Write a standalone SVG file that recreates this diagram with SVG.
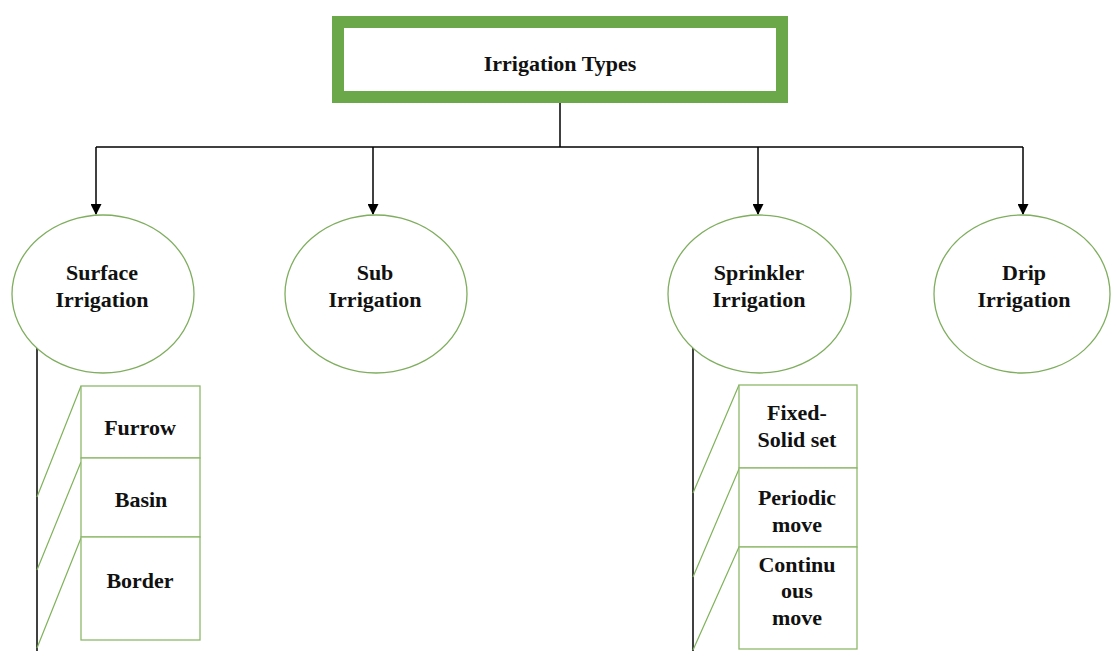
<svg xmlns="http://www.w3.org/2000/svg" width="1112" height="651" viewBox="0 0 1112 651">
<style>
text{font-family:"Liberation Serif","Times New Roman",serif;font-weight:bold;font-size:22px;fill:#111;text-anchor:middle}
.ell{fill:#fff;stroke:#7fae5f;stroke-width:1.3}
.box{fill:#fff;stroke:#8db86b;stroke-width:1.3}
.diag{stroke:#7fb35a;stroke-width:1.2;fill:none}
.conn{stroke:#000;stroke-width:1.5;fill:none}
</style>
<defs>
<marker id="arr" markerWidth="11" markerHeight="11" refX="10" refY="5.5" orient="auto" markerUnits="userSpaceOnUse">
<path d="M0,0 L11,5.5 L0,11 Z" fill="#000"/>
</marker>
</defs>
<rect width="1112" height="651" fill="#fff"/>
<g id="connectors">
<path class="conn" d="M560,97 V147"/>
<path class="conn" d="M96,147 H1023"/>
<path class="conn" d="M96,147 V214" marker-end="url(#arr)"/>
<path class="conn" d="M373,147 V214" marker-end="url(#arr)"/>
<path class="conn" d="M758,147 V214" marker-end="url(#arr)"/>
<path class="conn" d="M1023,147 V214" marker-end="url(#arr)"/>
<path class="conn" d="M37,348 V651"/>
<path class="conn" d="M693,348 V651"/>
<path class="diag" d="M37,497 L81,386 M37,570 L81,462 M37,648 L81,538"/>
<path class="diag" d="M693,493 L739,385 M693,577 L739,469 M693,650 L739,547"/>
</g>
<g id="root">
<rect x="338" y="22" width="444" height="75" fill="#fff" stroke="#6aa84a" stroke-width="12"/>
<text x="560" y="71">Irrigation Types</text>
</g>
<g id="surface">
<ellipse class="ell" cx="103" cy="294" rx="91" ry="79"/>
<text x="102" y="280">Surface</text>
<text x="102" y="307">Irrigation</text>
</g>
<g id="sub">
<ellipse class="ell" cx="376" cy="294" rx="91" ry="79"/>
<text x="375" y="280">Sub</text>
<text x="375" y="307">Irrigation</text>
</g>
<g id="sprinkler">
<ellipse class="ell" cx="759.5" cy="294" rx="91.5" ry="79"/>
<text x="759" y="280">Sprinkler</text>
<text x="759" y="307">Irrigation</text>
</g>
<g id="drip">
<ellipse class="ell" cx="1022" cy="294" rx="88" ry="79"/>
<text x="1024" y="280">Drip</text>
<text x="1024" y="307">Irrigation</text>
</g>
<g id="furrow">
<rect class="box" x="81" y="386" width="119" height="72"/>
<text x="140" y="435">Furrow</text>
</g>
<g id="basin">
<rect class="box" x="81" y="458" width="119" height="79"/>
<text x="141" y="507">Basin</text>
</g>
<g id="border">
<rect class="box" x="81" y="537" width="119" height="103"/>
<text x="140" y="588">Border</text>
</g>
<g id="fixed">
<rect class="box" x="739" y="385" width="118" height="83"/>
<text x="797" y="420">Fixed-</text>
<text x="797" y="447">Solid set</text>
</g>
<g id="periodic">
<rect class="box" x="739" y="468" width="118" height="79"/>
<text x="797" y="505">Periodic</text>
<text x="797" y="532">move</text>
</g>
<g id="continuous">
<rect class="box" x="739" y="547" width="118" height="102"/>
<text x="797" y="572">Continu</text>
<text x="797" y="598">ous</text>
<text x="797" y="625">move</text>
</g>
</svg>
